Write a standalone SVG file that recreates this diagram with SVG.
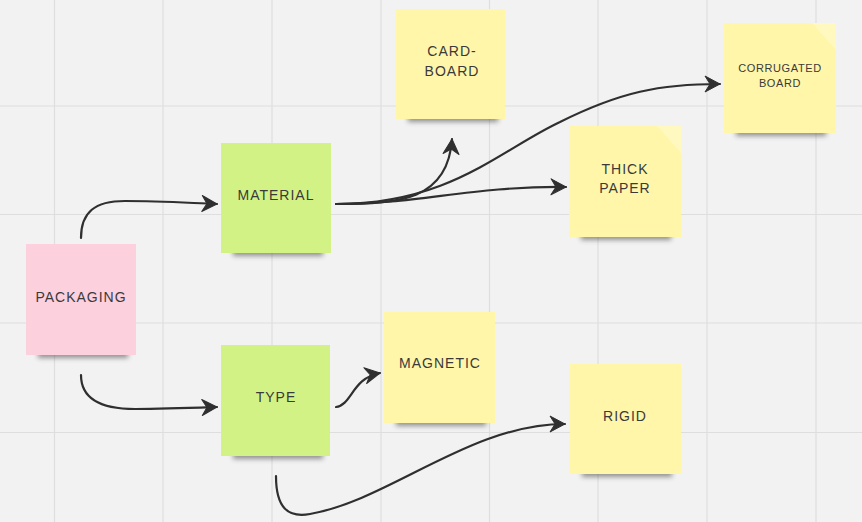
<svg xmlns="http://www.w3.org/2000/svg" width="862" height="522" viewBox="0 0 862 522">
<style>
.grid{stroke:#dedede;stroke-width:1.2}
.shadow{fill:#333;opacity:0.5;filter:url(#blur)}
.yellow{fill:#fff6aa}
.green{fill:#d3f286}
.pink{fill:#fdd0de}
.fold{fill:#fffad0;opacity:0.55}
.lbl{font-family:"Liberation Sans",Arial,sans-serif;font-size:14px;fill:#3a3a3a;text-anchor:middle;letter-spacing:1px}
.small{font-size:11px;letter-spacing:0.6px}
.conn{fill:none;stroke:#2f2f2f;stroke-width:2.2;stroke-linecap:round;marker-end:url(#arr)}
</style>
<defs>
<filter id="blur" x="-20%" y="-100%" width="140%" height="300%"><feGaussianBlur stdDeviation="2.5"/></filter>
<marker id="arr" markerUnits="userSpaceOnUse" markerWidth="20" markerHeight="20" viewBox="-16 -10 20 20" refX="0" refY="0" orient="auto">
<path d="M0,0 L-15,-8 L-10,0 L-15,8 Z" fill="#2f2f2f" stroke="#2f2f2f" stroke-width="1" stroke-linejoin="round"/>
</marker>
</defs>
<rect width="862" height="522" fill="#f2f2f2"/>
<g id="grid">
<line class="grid" x1="54.5" y1="0" x2="54.5" y2="522"/>
<line class="grid" x1="163" y1="0" x2="163" y2="522"/>
<line class="grid" x1="272" y1="0" x2="272" y2="522"/>
<line class="grid" x1="381" y1="0" x2="381" y2="522"/>
<line class="grid" x1="489.5" y1="0" x2="489.5" y2="522"/>
<line class="grid" x1="598" y1="0" x2="598" y2="522"/>
<line class="grid" x1="707" y1="0" x2="707" y2="522"/>
<line class="grid" x1="816" y1="0" x2="816" y2="522"/>
<line class="grid" x1="0" y1="106" x2="862" y2="106"/>
<line class="grid" x1="0" y1="214.5" x2="862" y2="214.5"/>
<line class="grid" x1="0" y1="323" x2="862" y2="323"/>
<line class="grid" x1="0" y1="432.5" x2="862" y2="432.5"/>
</g>
<g id="packaging">
<rect class="shadow" x="38" y="350" width="90" height="8"/>
<rect class="pink" x="26" y="244" width="110" height="111"/>
<text class="lbl" x="81" y="302">PACKAGING</text>
</g>
<g id="material">
<rect class="shadow" x="233" y="248" width="90" height="8"/>
<rect class="green" x="221" y="143" width="110" height="110"/>
<text class="lbl" x="276" y="200">MATERIAL</text>
</g>
<g id="type">
<rect class="shadow" x="233" y="451" width="90" height="8"/>
<rect class="green" x="221" y="345" width="109" height="111"/>
<text class="lbl" x="276" y="402">TYPE</text>
</g>
<g id="cardboard">
<rect class="shadow" x="408" y="114" width="90" height="8"/>
<rect class="yellow" x="396" y="9" width="109" height="110"/>
<text class="lbl" x="452" y="56">CARD-</text>
<text class="lbl" x="452" y="76">BOARD</text>
</g>
<g id="corrugated">
<rect class="shadow" x="736" y="128" width="90" height="8"/>
<rect class="yellow" x="724" y="23" width="112" height="110"/>
<polygon class="fold" points="812,23 836,23 836,50"/>
<text class="lbl small" x="780" y="72">CORRUGATED</text>
<text class="lbl small" x="780" y="87">BOARD</text>
</g>
<g id="thickpaper">
<rect class="shadow" x="581" y="232" width="90" height="8"/>
<rect class="yellow" x="569" y="126" width="112" height="111"/>
<polygon class="fold" points="657,126 681,126 681,153"/>
<text class="lbl" x="625" y="174">THICK</text>
<text class="lbl" x="625" y="193">PAPER</text>
</g>
<g id="magnetic">
<rect class="shadow" x="396" y="418" width="90" height="8"/>
<rect class="yellow" x="384" y="312" width="111" height="111"/>
<text class="lbl" x="440" y="368">MAGNETIC</text>
</g>
<g id="rigid">
<rect class="shadow" x="582" y="469" width="90" height="8"/>
<rect class="yellow" x="570" y="364" width="111" height="110"/>
<text class="lbl" x="625" y="421">RIGID</text>
</g>
<g id="connectors">
<path class="conn" d="M81,238 C81,212 95,201 125,201 C160,201 190,203 217,204"/>
<path class="conn" d="M81,375 C81,398 100,409 135,409 C165,409 190,408 217,407"/>
<path class="conn" d="M336,204 C400,204 448,200 452,139"/>
<path class="conn" d="M336,204 C450,204 500,150 560,122 C620,92 660,84 720,84"/>
<path class="conn" d="M336,204 C420,204 470,186 566,187"/>
<path class="conn" d="M336,407 C352,405 352,378 380,373"/>
<path class="conn" d="M276,476 C276,508 288,518 310,514 C390,500 470,424 565,424"/>
</g>
</svg>
